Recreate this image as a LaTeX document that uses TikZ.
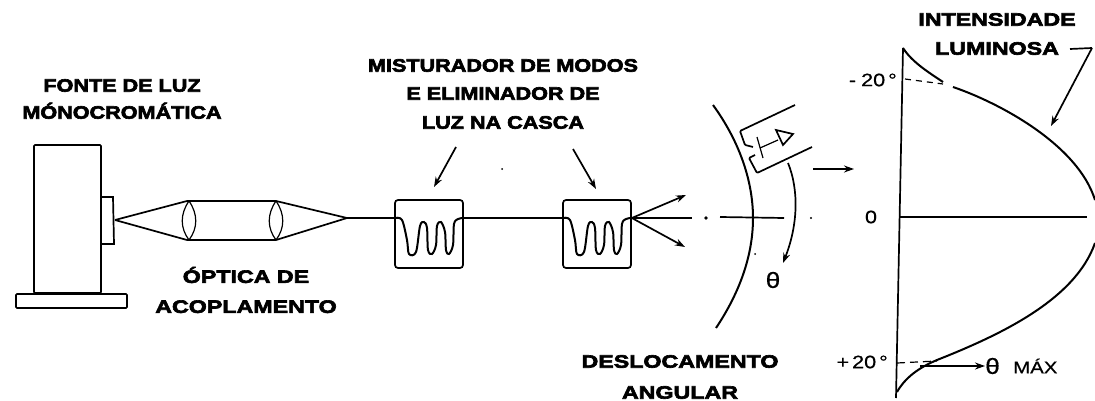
\documentclass[tikz,border=0pt]{standalone}
\usepackage{fontspec}
\usetikzlibrary{arrows.meta}
\setmainfont{Liberation Sans}
\newfontfamily\labelfont[FakeBold=3.5,FakeStretch=1.2]{Liberation Sans Bold}
\newfontfamily\widefont[FakeBold=3.5,FakeStretch=1.29]{Liberation Sans Bold}
\newfontfamily\scalefont[FakeStretch=1.2,FakeBold=0.6]{Liberation Sans}
\tikzset{
 traco/.style={black, line width=1.7pt},
 fino/.style={black, line width=1.2pt},
 seta/.style={traco, -{Stealth[length=10pt,width=7pt]}},
 rotulo/.style={font=\labelfont\fontsize{18}{18}\selectfont, align=center, inner sep=0pt},
 largo/.style={font=\widefont\fontsize{18}{18}\selectfont, align=center, inner sep=0pt},
 escala/.style={font=\scalefont\fontsize{18}{18}\selectfont, inner sep=0pt},
 letra/.style={font=\scalefont\fontsize{22}{22}\selectfont, inner sep=0pt},
 misturador/.style={draw, traco, rounded corners=3pt, minimum size=68pt, inner sep=0pt}
}
\begin{document}
\begin{tikzpicture}[x=1pt,y=-1pt]
\useasboundingbox (0,0) rectangle (1095,401);

% fonte de luz
\draw[traco, rounded corners=1pt] (34,145) rectangle (101,293);
\draw[traco, rounded corners=1pt] (16,294) rectangle (127,308);
\draw[traco] (102,197) -- (113,197) -- (114,244) -- (102,244);
\coordinate (foco) at (115,220);

% optica de acoplamento
\coordinate (saida) at (347,218);
\draw[traco] (foco) -- (187,201) -- (276,201) -- (saida);
\draw[traco] (foco) -- (187,240) -- (276,240) -- (saida);
\foreach \x in {189,276} {
 \draw[fino] (\x,201) .. controls (\x-9,214) and (\x-9,228) .. (\x,240);
 \draw[fino] (\x,201) .. controls (\x+9,214) and (\x+9,228) .. (\x,240);
}

% misturadores
\node[misturador] (boxA) at (429,234) {};
\node[misturador] (boxB) at (597,234) {};
\draw[traco] (saida) -- (boxA.west |- saida);
\draw[traco] (boxA.east |- saida) -- (boxB.west |- saida);
\foreach \x in {429,597} {
 \draw[traco, line width=2pt] plot[smooth, tension=.55] coordinates {
  (\x-34,218) (\x-27,220) (\x-22,240) (\x-20,254) (\x-13,252) (\x-9,226) (\x-5,222) (\x-2,228) (\x-1,250) (\x+3,254)
  (\x+7,245) (\x+8,226) (\x+12,222) (\x+16,232) (\x+17,250) (\x+20,254) (\x+24,245) (\x+25,224) (\x+29,219) (\x+34,218)};
}

% saida da fibra
\coordinate (raioA) at (686,195);
\coordinate (raioB) at (685,247);
\coordinate (raioC) at (692,218);
\draw[seta] (boxB.east |- saida) -- (raioA);
\draw[seta] (boxB.east |- saida) -- (raioB);
\draw[traco] (boxB.east |- saida) -- (raioC);
\fill (706,218) circle (1.8pt);
\draw[traco] (720,217) -- (784,218);
\fill (811,218) circle (1.2pt);
\fill (502,169) circle (1pt);
\fill (755,254) circle (1pt);

% arco e detector
\draw[traco, line width=2pt] (713,105) .. controls (742,145) and (753,185) .. (753,218) .. controls (753,255) and (740,292) .. (716,328);
\draw[traco, rounded corners=1pt] (795,105) -- (740,131) -- (745,145) -- (753,147);
\draw[traco, rounded corners=1pt] (812,147) -- (757,173) -- (749,158) -- (755,155);
\draw[fino] (757,137) -- (763,158);
\draw[fino] (760,148) -- (778,140);
\draw[traco] (776,130) -- (793,134) -- (783,145) -- cycle;
\draw[seta] (788,163) .. controls (799,190) and (798,225) .. (783,263);
\node[letra] (teta) at (773,280) {θ};
\coordinate (setaA) at (813,169);
\coordinate (setaB) at (854,169);
\draw[seta] (setaA) -- (setaB);

% curva de intensidade
\draw[traco] (903,48) -- (896,398);
\draw[fino] (900,217) -- (1087,217);
\draw[traco, line width=2pt] (903,48) .. controls (912,62) and (928,72) .. (943,82);
\draw[traco, line width=2pt] (953,87) .. controls (1000,103) and (1078,145) .. (1095,200);
\draw[traco, line width=2pt] (1095,243) .. controls (1075,300) and (1000,335) .. (937,360) .. controls (918,368) and (905,378) .. (897,392);
\draw[fino, dash pattern=on 6pt off 5pt] (905,79) -- (943,84);
\draw[fino, dash pattern=on 8pt off 5pt] (897,363) -- (937,361);
\coordinate (maxA) at (920,366);
\node[letra, anchor=west] (tetaMax) at (985,366) {θ};
\node[escala, anchor=west] (maxTxt) at (1013,366) {\fontsize{17}{17}\selectfont MÁX};
\draw[seta] (maxA) -- (tetaMax);

\node[escala, anchor=east] (menos) at (897,80) {-\hspace{5pt}20\hspace{3pt}°};
\node[escala] (zero) at (871,217) {0};
\node[escala, anchor=east] (mais) at (888,362) {+\hspace{3pt}20\hspace{3pt}°};

% rotulos
\node[rotulo] (fonte) at (122,99) {FONTE DE LUZ\\[9pt]MÓNOCROMÁTICA};
\node[rotulo] (mist) at (503,94) {MISTURADOR DE MODOS\\[10pt]E ELIMINADOR DE\\[11pt]LUZ NA CASCA};
\node[largo] (optica) at (246,290) {ÓPTICA DE\\[12pt]ACOPLAMENTO};
\node[largo] (desl) at (680,377) {DESLOCAMENTO\\[13pt]ANGULAR};
\node[largo] (inten) at (997,34) {INTENSIDADE\\[11pt]LUMINOSA};

\coordinate (mistA) at (456,147);
\coordinate (mistB) at (573,149);
\draw[seta] (mistA) -- (434,187);
\draw[seta] (mistB) -- (596,189);
\draw[traco] (1070,49) -- (1092,48);
\draw[seta] (1092,48) -- (1051,126);
\end{tikzpicture}
\end{document}
